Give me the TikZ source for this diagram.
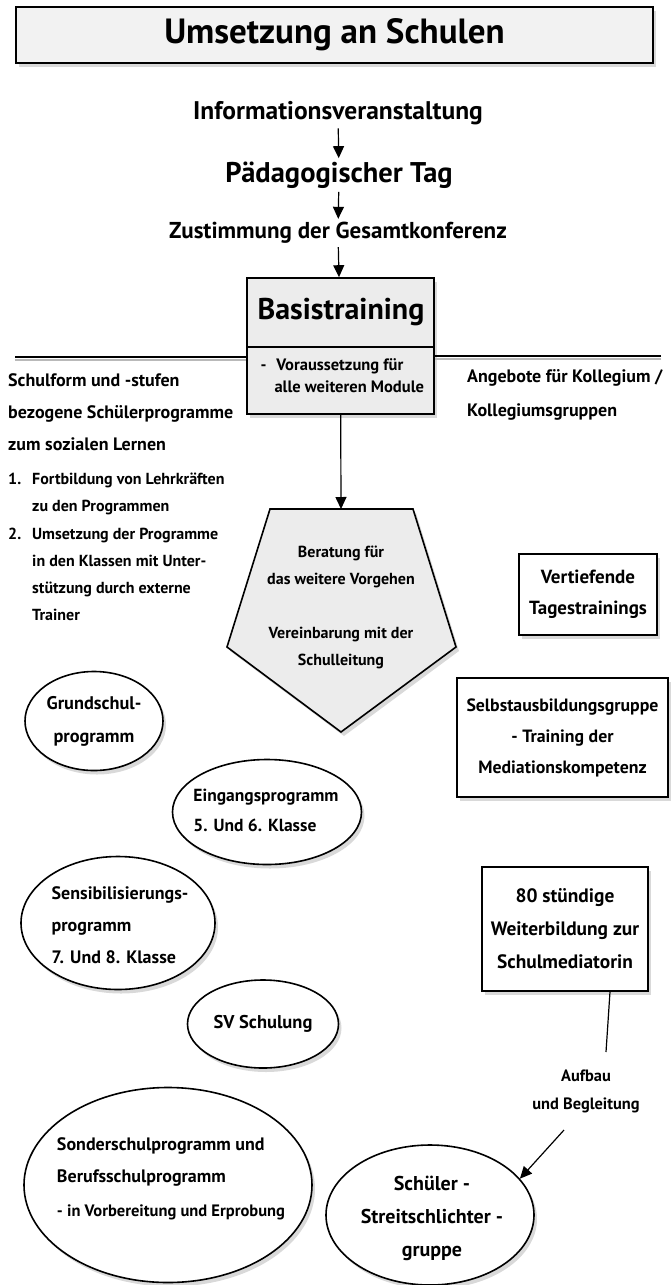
\documentclass[tikz,border=0pt]{standalone}
\usepackage{fontspec}
\setmainfont{PT Sans}
\usetikzlibrary{arrows.meta,shadows,shapes.geometric}

\newcommand{\schrift}[2]{\fontsize{#1}{#2}\selectfont\bfseries}

\begin{document}
\begin{tikzpicture}[x=1pt,y=-1pt,
		schatten/.style={drop shadow={shadow xshift=3pt,shadow yshift=-4pt,opacity=0.3}},
		kasten/.style={draw,line width=1.6pt,fill=white,schatten,align=center},
		oval/.style={draw,ellipse,line width=1.6pt,fill=white,schatten,inner sep=0pt},
		ovaltext/.style={font=\schrift{18}{32},inner sep=0pt},
		schritt/.style={font=\schrift{25.5}{28}},
		pfeil/.style={-{Triangle[length=12pt,width=11pt]},line width=1.2pt},
		linie/.style={line width=1.2pt},
	]
			\useasboundingbox (0,0) rectangle (670,1285);
			
			% Kopf und Ablauf
			\node[kasten, fill=gray!10, minimum width=637pt, minimum height=56pt, font=\schrift{35}{38}] (titel) at (334.5,35) {Umsetzung an Schulen};
			\node[schritt] (info) at (338,113) {Informationsveranstaltung};
			\node[schritt, font=\schrift{28.5}{30}] (paed) at (339,175) {Pädagogischer Tag};
			\node[schritt, font=\schrift{23}{26}] (zust) at (338,233) {Zustimmung der Gesamtkonferenz};
			
			\node[kasten, fill=gray!15, minimum width=187pt, minimum height=136pt] (basis) at (340.5,346) {};
			\node[font=\schrift{30}{32}] (basisname) at (341,312) {Basistraining};
			\node[font=\schrift{16.5}{22}, align=left, anchor=west] (basisvor) at (257,376) {-\hspace{10pt}Voraussetzung für\\\hspace*{14pt}alle weiteren Module};
			\coordinate (teil) at (341,347);
			\draw[line width=1.6pt] (basis.west |- teil) -- (basis.east |- teil);
			
			\path (info) edge[pfeil] (paed);
			\path (paed) edge[pfeil] (zust);
			\path (zust) edge[pfeil] (basis);
			
			% Trennlinien
			\coordinate (linkslinie) at (15,357);
			\coordinate (rechtslinie) at (661,356);
			\draw[line width=2.5pt, gray!55] ([yshift=-3pt]linkslinie) -- ([yshift=-3pt]linkslinie -| basis.west);
			\draw[line width=2pt] (linkslinie) -- (linkslinie -| basis.west);
			\draw[line width=2.5pt, gray!55] ([yshift=-3pt]rechtslinie) -- ([yshift=-3pt]rechtslinie -| basis.east);
			\draw[line width=2pt] (rechtslinie) -- (rechtslinie -| basis.east);
			
			% Texte links und rechts
			\node[anchor=west, align=left, font=\schrift{18}{32}, inner sep=0pt] (schulform) at (8,412) {Schulform und -stufen\\bezogene Schülerprogramme\\zum sozialen Lernen};
			\node[anchor=west, align=left, font=\schrift{16}{27.3}, inner sep=0pt] (fortbildung) at (8,547) {\makebox[24pt][l]{1.}Fortbildung von Lehrkräften\\\hspace*{24pt}zu den Programmen\\\makebox[24pt][l]{2.}Umsetzung der Programme\\\hspace*{24pt}in den Klassen mit Unter-\\\hspace*{24pt}stützung durch externe\\\hspace*{24pt}Trainer};
			\node[anchor=west, align=left, font=\schrift{18}{34}, inner sep=0pt] (angebote) at (467,395) {Angebote für Kollegium /\\Kollegiumsgruppen};
			
			% Beratung
			\coordinate (fuenfoben) at (341,509);
			\draw[line width=1.6pt, fill=gray!15, schatten] (270,509) -- (413,509) -- (456,647) -- (341,732) -- (227,647) -- cycle;
			\path (basis) edge[pfeil] (fuenfoben);
			\node[align=center, font=\schrift{16}{27}] (beratung) at (341,607) {Beratung für\\das weitere Vorgehen\\[27pt]Vereinbarung mit der\\Schulleitung};
			
			% Angebote Kollegium
			\node[kasten, minimum width=138pt, minimum height=81pt, font=\schrift{19}{31}] (tages) at (588,594.5) {Vertiefende\\Tagestrainings};
			\node[kasten, minimum width=211pt, minimum height=119pt, font=\schrift{17.8}{31}] (selbst) at (562.5,737.5) {Selbstausbildungsgruppe\\- Training der\\Mediationskompetenz};
			\node[kasten, minimum width=166pt, minimum height=124pt, font=\schrift{19.4}{33}] (weiter) at (565,929) {80 stündige\\Weiterbildung zur\\Schulmediatorin};
			
			% Schuelerprogramme
			\node[oval, minimum width=138pt, minimum height=99pt] (grund) at (94,721) {};
			\node[ovaltext, align=center, font=\schrift{18.3}{33}] (grundtext) at (grund) {Grundschul-\\programm};
			\node[oval, minimum width=189pt, minimum height=105pt] (eingang) at (267,812) {};
			\node[ovaltext, align=left, font=\schrift{17.5}{30}] (eingangtext) at (266,810) {Eingangsprogramm\\5. Und 6. Klasse};
			\node[oval, minimum width=194pt, minimum height=133pt] (sensi) at (118,923) {};
			\node[ovaltext, align=left] (sensitext) at (120,925) {Sensibilisierungs-\\programm\\7. Und 8. Klasse};
			\node[oval, minimum width=151pt, minimum height=88pt] (sv) at (263,1024) {};
			\node[ovaltext, font=\schrift{18.5}{32}] (svtext) at (sv) {SV Schulung};
			\node[oval, minimum width=288pt, minimum height=195pt] (sonder) at (168,1185) {};
			\node[ovaltext, align=left] (sondertext) at (171,1179) {Sonderschulprogramm und\\Berufsschulprogramm\\[2pt]{\schrift{16.5}{30}- in Vorbereitung und Erprobung}};
			\node[oval, minimum width=208pt, minimum height=140pt] (schueler) at (430,1215) {};
			\node[ovaltext, align=center, font=\schrift{20}{33}] (schuelertext) at (432,1218) {Schüler -\\Streitschlichter -\\gruppe};
			
			% Aufbau und Begleitung
			\node[align=center, font=\schrift{16.4}{28}] (aufbau) at (586,1091) {Aufbau\\und Begleitung};
			\coordinate (linienende) at (606,1052);
			\coordinate (pfeilanfang) at (564,1130);
			\draw[linie] ([xshift=45pt]weiter.south) -- (linienende);
			\draw[pfeil] (pfeilanfang) -- (schueler.22);
			
		\end{tikzpicture}
\end{document}
